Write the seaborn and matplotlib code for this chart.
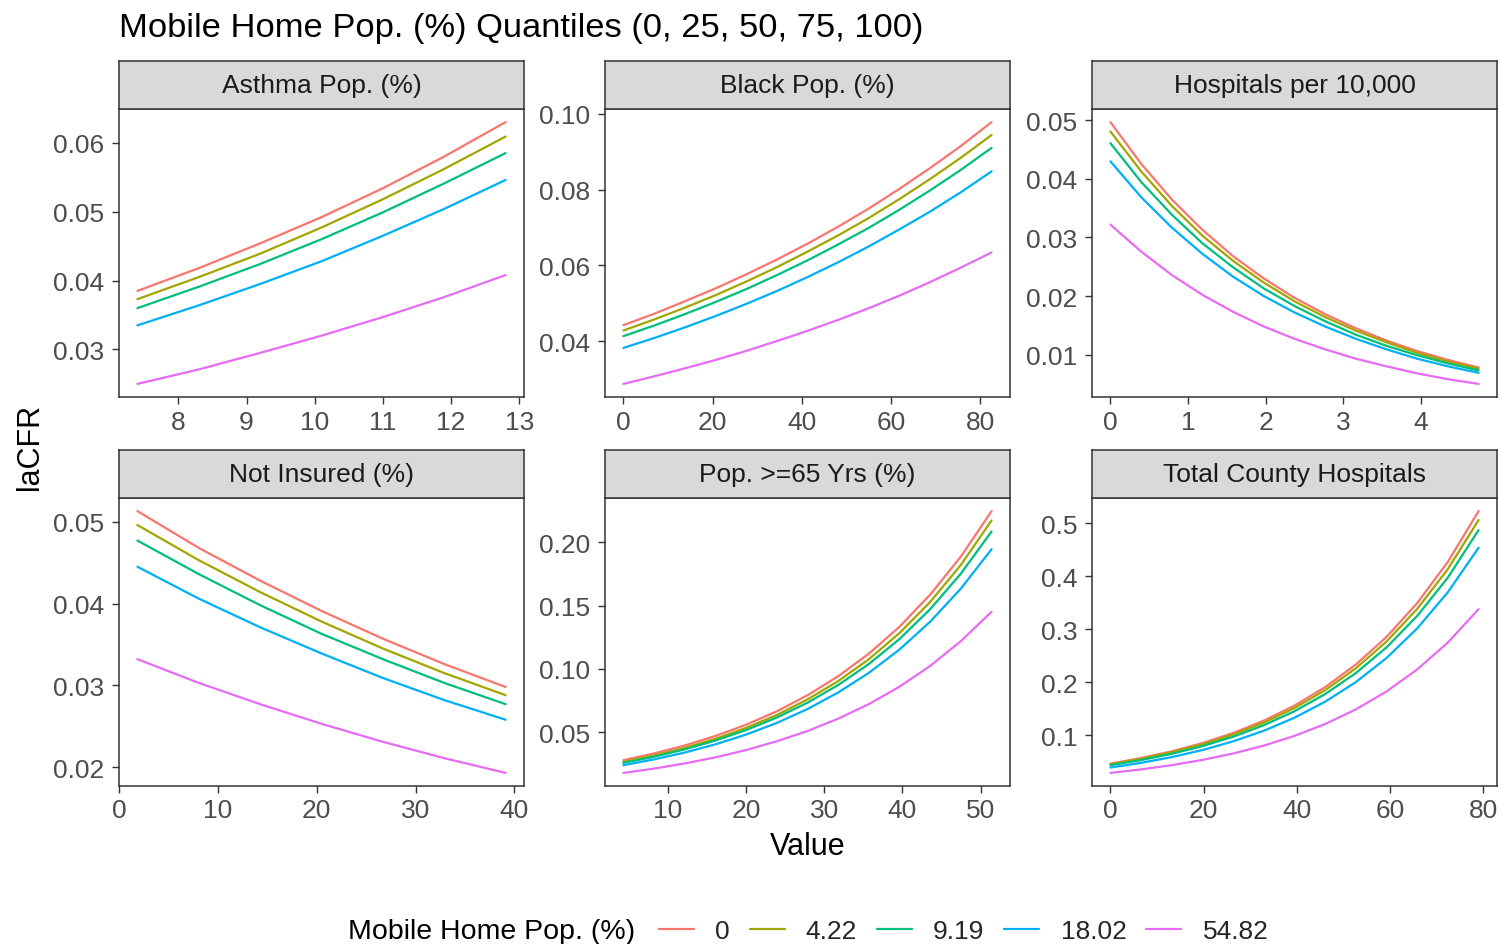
import matplotlib
matplotlib.use("Agg")
import matplotlib.pyplot as plt
from matplotlib.lines import Line2D
import numpy as np
import pandas as pd
import seaborn as sns

# ---------------- data ----------------
levels = ["0", "4.22", "9.19", "18.02", "54.82"]
palette = ["#F8766D", "#A3A500", "#00BF7D", "#00B0F6", "#E76BF3"]

panel_names = ["Asthma Pop. (%)", "Black Pop. (%)", "Hospitals per 10,000",
               "Not Insured (%)", "Pop. >=65 Yrs (%)", "Total County Hospitals"]

asthma_x = [7.4, 8.3, 9.2, 10.1, 11.0, 11.9, 12.8]
asthma_y = [
    [0.0385, 0.0418, 0.0454, 0.0492, 0.0534, 0.0580, 0.0630],
    [0.0373, 0.0405, 0.0439, 0.0477, 0.0518, 0.0562, 0.0609],
    [0.0360, 0.0391, 0.0424, 0.0460, 0.0499, 0.0541, 0.0585],
    [0.0335, 0.0364, 0.0395, 0.0428, 0.0465, 0.0504, 0.0546],
    [0.0250, 0.0271, 0.0295, 0.0320, 0.0347, 0.0376, 0.0408],
]

black_x = [0, 6.875, 13.75, 20.625, 27.5, 34.375, 41.25, 48.125, 55, 61.875,
           68.75, 75.625, 82.5]
black_y = [
    [0.0442, 0.0472, 0.0505, 0.0539, 0.0576, 0.0615, 0.0657, 0.0702, 0.0750,
     0.0802, 0.0857, 0.0915, 0.0978],
    [0.0428, 0.0457, 0.0488, 0.0521, 0.0557, 0.0595, 0.0636, 0.0679, 0.0725,
     0.0775, 0.0828, 0.0884, 0.0944],
    [0.0413, 0.0441, 0.0471, 0.0503, 0.0537, 0.0574, 0.0613, 0.0655, 0.0699,
     0.0747, 0.0798, 0.0852, 0.0910],
    [0.0382, 0.0408, 0.0436, 0.0466, 0.0498, 0.0532, 0.0569, 0.0608, 0.0650,
     0.0695, 0.0742, 0.0793, 0.0848],
    [0.0287, 0.0307, 0.0328, 0.0350, 0.0374, 0.0400, 0.0427, 0.0456, 0.0487,
     0.0520, 0.0556, 0.0594, 0.0634],
]

hosp10k_x = [0, 0.395, 0.79, 1.185, 1.58, 1.975, 2.37, 2.765, 3.16, 3.555,
             3.95, 4.345, 4.74]
hosp10k_y = [
    [0.0497, 0.0426, 0.0365, 0.0313, 0.0268, 0.0230, 0.0197, 0.0169, 0.0145,
     0.0124, 0.0106, 0.0091, 0.0078],
    [0.0481, 0.0413, 0.0354, 0.0303, 0.0260, 0.0223, 0.0191, 0.0164, 0.0141,
     0.0121, 0.0103, 0.0088, 0.0076],
    [0.0461, 0.0395, 0.0339, 0.0290, 0.0249, 0.0213, 0.0183, 0.0157, 0.0134,
     0.0115, 0.0099, 0.0085, 0.0073],
    [0.0430, 0.0369, 0.0317, 0.0272, 0.0233, 0.0200, 0.0172, 0.0148, 0.0127,
     0.0109, 0.0093, 0.0080, 0.0069],
    [0.0322, 0.0276, 0.0236, 0.0202, 0.0173, 0.0148, 0.0127, 0.0109, 0.0093,
     0.0080, 0.0068, 0.0058, 0.0050],
]

insured_x = [1.85, 8.06, 14.27, 20.48, 26.69, 32.9, 39.1]
insured_y = [
    [0.0513, 0.0468, 0.0428, 0.0391, 0.0357, 0.0326, 0.0298],
    [0.0496, 0.0453, 0.0414, 0.0378, 0.0345, 0.0315, 0.0288],
    [0.0477, 0.0436, 0.0398, 0.0363, 0.0332, 0.0303, 0.0277],
    [0.0445, 0.0406, 0.0371, 0.0339, 0.0309, 0.0282, 0.0258],
    [0.0332, 0.0303, 0.0277, 0.0253, 0.0231, 0.0211, 0.0193],
]

pop65_x = [4.3, 8.225, 12.15, 16.075, 20.0, 23.925, 27.85, 31.775, 35.7,
           39.625, 43.55, 47.475, 51.4]
pop65_y = [
    [0.0279, 0.0332, 0.0395, 0.0470, 0.0559, 0.0665, 0.0792, 0.0942, 0.1121,
     0.1334, 0.1588, 0.1889, 0.2248],
    [0.0265, 0.0316, 0.0376, 0.0448, 0.0534, 0.0636, 0.0759, 0.0904, 0.1077,
     0.1284, 0.1530, 0.1823, 0.2174],
    [0.0257, 0.0306, 0.0364, 0.0434, 0.0517, 0.0616, 0.0733, 0.0873, 0.1039,
     0.1237, 0.1473, 0.1754, 0.2087],
    [0.0239, 0.0285, 0.0339, 0.0404, 0.0481, 0.0573, 0.0683, 0.0814, 0.0969,
     0.1154, 0.1374, 0.1636, 0.1947],
    [0.0178, 0.0212, 0.0253, 0.0301, 0.0359, 0.0428, 0.0509, 0.0607, 0.0722,
     0.0860, 0.1024, 0.1220, 0.1452],
]

total_x = [0, 6.58, 13.17, 19.75, 26.33, 32.92, 39.5, 46.08, 52.67, 59.25,
           65.83, 72.42, 79.0]
total_y = [
    [0.0465, 0.0569, 0.0696, 0.0851, 0.1041, 0.1274, 0.1559, 0.1907, 0.2333,
     0.2854, 0.3491, 0.4271, 0.5226],
    [0.0453, 0.0554, 0.0677, 0.0828, 0.1012, 0.1237, 0.1513, 0.1850, 0.2262,
     0.2766, 0.3382, 0.4135, 0.5057],
    [0.0434, 0.0531, 0.0649, 0.0794, 0.0971, 0.1188, 0.1452, 0.1776, 0.2172,
     0.2657, 0.3249, 0.3974, 0.4868],
    [0.0390, 0.0479, 0.0587, 0.0720, 0.0884, 0.1084, 0.1330, 0.1632, 0.2002,
     0.2456, 0.3014, 0.3698, 0.4535],
    [0.0289, 0.0355, 0.0435, 0.0534, 0.0655, 0.0804, 0.0987, 0.1211, 0.1487,
     0.1825, 0.2240, 0.2749, 0.3377],
]

xticks_list = [[8, 9, 10, 11, 12, 13], [0, 20, 40, 60, 80], [0, 1, 2, 3, 4],
               [0, 10, 20, 30, 40], [10, 20, 30, 40, 50], [0, 20, 40, 60, 80]]
yticks_list = [[0.03, 0.04, 0.05, 0.06], [0.04, 0.06, 0.08, 0.10],
               [0.01, 0.02, 0.03, 0.04, 0.05], [0.02, 0.03, 0.04, 0.05],
               [0.05, 0.10, 0.15, 0.20], [0.1, 0.2, 0.3, 0.4, 0.5]]
ytick_labels = [["0.03", "0.04", "0.05", "0.06"], ["0.04", "0.06", "0.08", "0.10"],
                ["0.01", "0.02", "0.03", "0.04", "0.05"], ["0.02", "0.03", "0.04", "0.05"],
                ["0.05", "0.10", "0.15", "0.20"], ["0.1", "0.2", "0.3", "0.4", "0.5"]]

title = "Mobile Home Pop. (%) Quantiles (0, 25, 50, 75, 100)"
legend_title = "Mobile Home Pop. (%)"

# ---------------- long table ----------------
panel_x = [asthma_x, black_x, hosp10k_x, insured_x, pop65_x, total_x]
panel_y = [asthma_y, black_y, hosp10k_y, insured_y, pop65_y, total_y]
rows = []
for name, xs, ys in zip(panel_names, panel_x, panel_y):
    for lev, yv in zip(levels, ys):
        for xv, v in zip(xs, yv):
            rows.append((name, lev, xv, v))
df = pd.DataFrame(rows, columns=["variable", "Mobile", "Value", "laCFR"])

# ---------------- style ----------------
sns.set_theme(style="white")
plt.rcParams["font.family"] = ["Liberation Sans", "DejaVu Sans"]
dark = "#333333"
tickcol = "#4D4D4D"

W, H = 1502, 945
fig = plt.figure(figsize=(W / 100, H / 100), dpi=100)
fig.patch.set_facecolor("white")


def rect(l, t, w, h):
    return [l / W, 1 - (t + h) / H, w / W, h / H]


lefts = [119, 605, 1092]
tops = [110, 499]
pw, ph, sh = 405, 288, 48

for i, name in enumerate(panel_names):
    r, c = divmod(i, 3)
    ax = fig.add_axes(rect(lefts[c], tops[r], pw, ph))
    sub = df[df["variable"] == name]
    sns.lineplot(data=sub, x="Value", y="laCFR", hue="Mobile", hue_order=levels,
                 palette=palette, ax=ax, legend=False, linewidth=1.6,
                 estimator=None, sort=False)
    xmin, xmax = sub["Value"].min(), sub["Value"].max()
    ymin, ymax = sub["laCFR"].min(), sub["laCFR"].max()
    ex, ey = 0.05 * (xmax - xmin), 0.05 * (ymax - ymin)
    ax.set_xlim(xmin - ex, xmax + ex)
    ax.set_ylim(ymin - ey, ymax + ey)
    ax.set_xticks(xticks_list[i])
    ax.set_xticklabels([str(t) for t in xticks_list[i]])
    ax.set_yticks(yticks_list[i])
    ax.set_yticklabels(ytick_labels[i])
    ax.set_xlabel("")
    ax.set_ylabel("")
    ax.set_facecolor("white")
    for s in ax.spines.values():
        s.set_color(dark)
        s.set_linewidth(1.1)
    ax.tick_params(axis="both", which="major", direction="out", length=5,
                   width=1.0, color=dark, labelcolor=tickcol, labelsize=19,
                   left=True, bottom=True)
    ax.tick_params(axis="x", pad=4)
    ax.tick_params(axis="y", pad=5.5)
    ax.grid(False)

    sax = fig.add_axes(rect(lefts[c], tops[r] - sh, pw, sh))
    sax.set_facecolor("#D9D9D9")
    sax.set_xticks([])
    sax.set_yticks([])
    for s in sax.spines.values():
        s.set_color(dark)
        s.set_linewidth(1.1)
    sax.text(0.5, 0.5, name, transform=sax.transAxes, ha="center", va="center",
             fontsize=19, color="#1A1A1A")

fig.text(119 / W, 1 - 29 / H, title, fontsize=24.8, ha="left", va="center",
         color="black")
fig.text(30 / W, 1 - 447 / H, "laCFR", fontsize=22, rotation=90,
         ha="center", va="center", color="black")
fig.text(808 / W, 1 - 847 / H, "Value", fontsize=22, ha="center", va="center",
         color="black")

fig.text(348 / W, 1 - 932 / H, legend_title, fontsize=20.5, ha="left",
         va="center", color="black")
handles = [Line2D([0], [0], color=col, lw=1.6) for col in palette]
fig.legend(handles, levels, loc="center left",
           bbox_to_anchor=(659 / W, 1 - 932 / H), ncol=5, frameon=False,
           fontsize=19, handlelength=1.33, handletextpad=0.8,
           columnspacing=0.75, borderpad=0, borderaxespad=0)

fig.savefig("out.png", dpi=100, facecolor="white")
